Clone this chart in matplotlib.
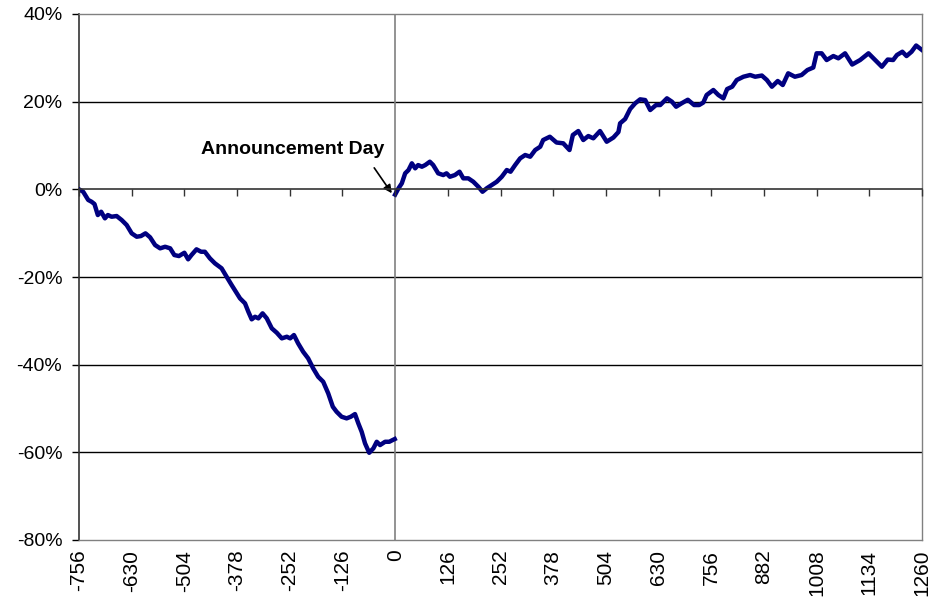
import matplotlib
matplotlib.use("Agg")
import matplotlib.pyplot as plt
from matplotlib.ticker import FuncFormatter

plt.rcParams['font.family'] = ['Liberation Sans', 'DejaVu Sans']

# Pre-announcement cumulative return (%), event days
pre_days = [-756, -746, -734, -726, -719, -711, -703, -694, -687, -678, -666, -654, -642,
            -630, -618, -608, -597, -586, -574, -562, -550, -538, -528, -517, -504, -495,
            -487, -475, -464, -455, -443, -431, -415, -403, -391, -371, -359, -351, -343,
            -335, -327, -317, -307, -295, -283, -271, -259, -251, -242, -232, -220, -208,
            -196, -184, -172, -160, -149, -140, -128, -116, -106, -96, -88, -80, -72, -62,
            -52, -44, -36, -24, -14, -6, -1]
pre_ret = [0.0, -0.55, -2.42, -2.83, -3.35, -5.86, -5.11, -6.62, -5.86, -6.25, -6.09, -7.0,
           -8.14, -10.04, -10.81, -10.66, -10.04, -10.95, -12.71, -13.46, -13.10, -13.46,
           -14.99, -15.22, -14.47, -15.97, -14.99, -13.69, -14.24, -14.24, -15.74, -16.88,
           -18.02, -19.94, -21.83, -24.87, -26.01, -27.93, -29.66, -29.07, -29.43, -28.29,
           -29.43, -31.71, -32.72, -34.0, -33.63, -34.0, -33.24, -35.14, -37.05, -38.56,
           -40.84, -42.76, -43.90, -46.55, -49.60, -50.74, -51.88, -52.25, -51.88, -51.27,
           -53.39, -55.31, -57.95, -60.10, -59.09, -57.59, -58.34, -57.59, -57.59, -57.20,
           -56.97]

# Post-announcement cumulative return (%)
post_days = [0, 8, 16, 24, 32, 40, 48, 55, 64, 72, 83, 91, 103, 115, 123, 131, 143, 154,
             163, 175, 187, 199, 209, 219, 231, 243, 255, 267, 276, 287, 299, 311, 323, 335,
             347, 354, 370, 386, 402, 417, 425, 438, 450, 462, 474, 490, 506, 522, 534, 538,
             550, 562, 574, 586, 598, 610, 624, 634, 650, 662, 672, 685, 700, 715, 727, 737,
             745, 761, 773, 785, 794, 806, 817, 833, 849, 861, 877, 889, 901, 915, 927, 940,
             956, 972, 986, 1000, 1008, 1020, 1032, 1048, 1060, 1076, 1093, 1112, 1132, 1148,
             1164, 1178, 1191, 1200, 1213, 1223, 1235, 1246, 1260]
post_ret = [-1.2, 0.23, 1.37, 3.65, 4.40, 5.93, 4.79, 5.54, 5.16, 5.54, 6.30, 5.54, 3.65,
            3.26, 3.65, 2.87, 3.26, 4.02, 2.51, 2.51, 1.73, 0.59, -0.55, 0.23, 0.98, 1.73,
            2.87, 4.40, 4.02, 5.54, 7.07, 7.83, 7.44, 8.97, 9.72, 11.25, 12.0, 10.68, 10.50,
            8.97, 12.39, 13.30, 11.25, 12.16, 11.64, 13.30, 10.86, 11.82, 13.07, 15.06,
            16.04, 18.32, 19.62, 20.53, 20.37, 18.09, 19.23, 19.23, 20.76, 19.99, 18.85,
            19.62, 20.44, 19.23, 19.23, 19.80, 21.52, 22.66, 21.52, 20.76, 22.88, 23.41,
            24.94, 25.69, 26.08, 25.69, 25.96, 24.94, 23.41, 24.71, 23.80, 26.47, 25.69,
            26.08, 27.22, 27.79, 31.03, 31.03, 29.50, 30.41, 29.89, 31.03, 28.47, 29.50,
            31.03, 29.50, 27.97, 29.61, 29.50, 30.64, 31.39, 30.41, 31.39, 32.81, 31.78]

x_ticks = list(range(-756, 1261, 126))
y_ticks = list(range(-80, 41, 20))
annotation_text = "Announcement Day"

fig = plt.figure(figsize=(9.34, 6.07), dpi=100)
ax = fig.add_axes([79 / 934, 1 - 540 / 607, (922 - 79) / 934, (540 - 14) / 607])

ax.set_xlim(-756, 1260)
ax.set_ylim(-80, 40)

# gridlines
for yv in y_ticks:
    if yv not in (-80, 40, 0):
        ax.axhline(yv, color='black', lw=1.0, zorder=1)
ax.axvline(0, color='#808080', lw=1.2, zorder=1)

ax.plot(pre_days, pre_ret, color='#000080', lw=3.2, solid_joinstyle='round', zorder=3)
ax.plot(post_days, post_ret, color='#000080', lw=3.2, solid_joinstyle='round', zorder=3)

# y axis
ax.set_yticks(y_ticks)
ax.yaxis.set_major_formatter(FuncFormatter(lambda v, p: f"{int(round(v))}%"))
ax.tick_params(axis='y', direction='out', length=5, width=1, color='black',
               labelsize=14, pad=7)

# x axis labels at bottom, no ticks
ax.set_xticks(x_ticks)
ax.set_xticklabels([str(t) for t in x_ticks], rotation=90)
ax.tick_params(axis='x', length=0, labelsize=15, pad=7)

for s in ['top', 'right', 'bottom']:
    ax.spines[s].set_color('#808080')
    ax.spines[s].set_linewidth(1.0)
ax.spines['left'].set_color('#333333')
ax.spines['left'].set_linewidth(1.2)

# x axis line at 0% with tick marks
ax2 = ax.twiny()
ax2.set_xlim(ax.get_xlim())
ax2.xaxis.set_ticks_position('bottom')
ax2.spines['bottom'].set_position(('data', 0))
for s in ['top', 'right', 'left']:
    ax2.spines[s].set_visible(False)
ax2.spines['bottom'].set_color('#333333')
ax2.spines['bottom'].set_linewidth(1.2)
ax2.set_xticks(x_ticks)
ax2.tick_params(axis='x', direction='out', length=5, width=1, color='#333333',
                labelbottom=False, labeltop=False)

ax.annotate(annotation_text, xy=(-244, 9.2), ha='center', va='center',
            fontsize=14, fontweight='bold')
ax.annotate('', xy=(-8, -0.9), xytext=(-50, 4.9),
            arrowprops=dict(arrowstyle='-|>', color='black', lw=1.2,
                            mutation_scale=12, shrinkA=0, shrinkB=0))

fig.savefig('out.png', dpi=100, facecolor='white')
